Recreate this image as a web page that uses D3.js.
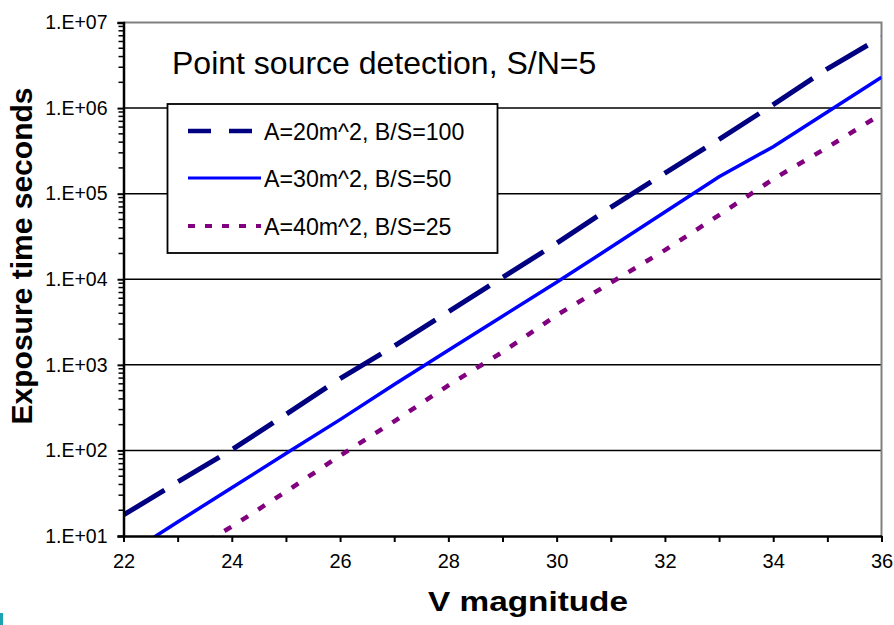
<!DOCTYPE html>
<html>
<head>
<meta charset="utf-8">
<script src="https://cdn.jsdelivr.net/npm/d3@7"></script>
<style>
	body { margin: 0; background: #fff; }
	svg { display: block; font-family: "Liberation Sans", Arial, sans-serif; }
</style>
</head>
<body>
<script>
// V magnitude (x axis)
var magnitudes = [22, 23, 24, 25, 26, 27, 28, 29, 30, 31, 32, 33, 34, 35, 36];

// exposure time in seconds for each telescope setup
var expA20 = [17.6, 42.7, 102, 263, 692, 1660, 4170, 10500, 26300, 69200, 174000, 432000, 1100000, 2880000, 6760000];
var expA30 = [5.7, 14.6, 36.6, 92, 229, 590, 1480, 3700, 9200, 23600, 61000, 158000, 354000, 900000, 2290000];
var expA40 = [2.0, 5.4, 12.9, 33, 87, 219, 575, 1410, 3800, 9100, 21900, 56200, 148000, 347000, 851000];

var seriesNames = ["A=20m^2, B/S=100", "A=30m^2, B/S=50", "A=40m^2, B/S=25"];
var xTickValues = [22, 24, 26, 28, 30, 32, 34, 36];
var yTickValues = [1e1, 1e2, 1e3, 1e4, 1e5, 1e6, 1e7];
var chartTitle = "Point source detection, S/N=5";

document.addEventListener("DOMContentLoaded", function () {
	var width = 894;
	var height = 625;
	var margin = { top: 22.5, right: 12.5, bottom: 89, left: 123.5 };

	var svg = d3.select("body").append("svg")
		.attr("width", width)
		.attr("height", height);

	var x = d3.scaleLinear().domain([22, 36]).range([margin.left, width - margin.right]);
	var y = d3.scaleLog().domain([1e1, 1e7]).range([height - margin.bottom, margin.top]);

	// clip lines to the plot area
	svg.append("clipPath").attr("id", "plotClip")
		.append("rect")
		.attr("x", x(22)).attr("y", y(1e7))
		.attr("width", x(36) - x(22))
		.attr("height", y(1e1) - y(1e7));

	// horizontal gridlines at each decade
	svg.append("g")
		.selectAll("line")
		.data(yTickValues.slice(1, -1))
		.enter().append("line")
		.attr("x1", x(22)).attr("x2", x(36))
		.attr("y1", function (d) { return y(d); })
		.attr("y2", function (d) { return y(d); })
		.attr("stroke", "#000")
		.attr("stroke-width", 1.5);

	// grey plot border on top and right
	svg.append("path")
		.attr("d", "M" + x(22) + "," + y(1e7) + "H" + x(36) + "V" + y(1e1))
		.attr("fill", "none")
		.attr("stroke", "#808080")
		.attr("stroke-width", 2);

	// series definitions
	var series = [
		{ name: seriesNames[0], values: expA20, color: "#000080", width: 5, dash: "48,16", legendDash: "23,18" },
		{ name: seriesNames[1], values: expA30, color: "#0000ff", width: 3.5, dash: null, legendDash: null },
		{ name: seriesNames[2], values: expA40, color: "#800080", width: 4.5, dash: "8,12", legendDash: "7,10" }
	];

	var line = d3.line()
		.x(function (d) { return x(d.m); })
		.y(function (d) { return y(d.t); });

	var lines = svg.append("g").attr("clip-path", "url(#plotClip)");
	series.forEach(function (s) {
		var pts = magnitudes.map(function (m, i) { return { m: m, t: s.values[i] }; });
		lines.append("path")
			.datum(pts)
			.attr("fill", "none")
			.attr("stroke", s.color)
			.attr("stroke-width", s.width)
			.attr("stroke-dasharray", s.dash)
			.attr("d", line);
	});

	// Y axis with log minor ticks
	var yMinor = [];
	for (var k = 1; k < 7; k++) {
		for (var j = 2; j <= 9; j++) yMinor.push(j * Math.pow(10, k));
	}
	var yAxis = svg.append("g")
		.attr("transform", "translate(" + x(22) + ",0)")
		.call(d3.axisLeft(y).tickValues(yTickValues).tickSize(6).tickPadding(10)
			.tickFormat(function (d) { return "1.E+" + d3.format("02d")(Math.round(Math.log10(d))); }));
	yAxis.select(".domain").attr("stroke-width", 2.5);
	yAxis.selectAll(".tick line").attr("stroke-width", 2);
	yAxis.selectAll("text").attr("font-size", 19.5).attr("fill", "#000")
		.attr("font-family", "'Liberation Sans', Arial, sans-serif");
	svg.append("g")
		.selectAll("line")
		.data(yMinor)
		.enter().append("line")
		.attr("x1", x(22) - 5).attr("x2", x(22))
		.attr("y1", function (d) { return y(d); })
		.attr("y2", function (d) { return y(d); })
		.attr("stroke", "#000")
		.attr("stroke-width", 1.5);

	// X axis, minor ticks at odd magnitudes
	var xAxis = svg.append("g")
		.attr("transform", "translate(0," + y(1e1) + ")")
		.call(d3.axisBottom(x).tickValues(magnitudes).tickSize(6).tickPadding(12)
			.tickSizeOuter(0)
			.tickFormat(function (d) { return d % 2 === 0 ? d : ""; }));
	xAxis.select(".domain").attr("stroke-width", 2.5);
	xAxis.selectAll(".tick line").attr("stroke-width", 2);
	xAxis.selectAll("text").attr("font-size", 20).attr("fill", "#000")
		.attr("font-family", "'Liberation Sans', Arial, sans-serif");

	// axis titles
	svg.append("text")
		.attr("x", 528)
		.attr("y", 611)
		.attr("text-anchor", "middle")
		.attr("font-size", 27)
		.attr("font-weight", "bold")
		.attr("textLength", 200)
		.attr("lengthAdjust", "spacingAndGlyphs")
		.text("V magnitude");

	svg.append("text")
		.attr("transform", "translate(32,256) rotate(-90)")
		.attr("text-anchor", "middle")
		.attr("font-size", 29)
		.attr("font-weight", "bold")
		.attr("textLength", 337)
		.attr("lengthAdjust", "spacingAndGlyphs")
		.text("Exposure time  seconds");

	// chart title inside the plot area
	svg.append("text")
		.attr("x", 172)
		.attr("y", 74)
		.attr("font-size", 32)
		.text(chartTitle);

	// legend box
	var legend = svg.append("g");
	legend.append("rect")
		.attr("x", 167.5).attr("y", 104)
		.attr("width", 330).attr("height", 149)
		.attr("fill", "#fff")
		.attr("stroke", "#000")
		.attr("stroke-width", 1.8);

	var legendRows = [131, 178, 226];
	series.forEach(function (s, i) {
		legend.append("line")
			.attr("x1", 188).attr("x2", 261)
			.attr("y1", legendRows[i]).attr("y2", legendRows[i])
			.attr("stroke", s.color)
			.attr("stroke-width", s.width - 0.5)
			.attr("stroke-dasharray", s.legendDash);
		legend.append("text")
			.attr("x", 264)
			.attr("y", legendRows[i] + 8.5)
			.attr("font-size", 23.2)
			.text(s.name);
	});

	// small teal mark at the bottom-left edge
	svg.append("rect")
		.attr("x", 0).attr("y", 613)
		.attr("width", 3).attr("height", 12)
		.attr("fill", "#1aa3b3");
});
</script>
</body>
</html>
